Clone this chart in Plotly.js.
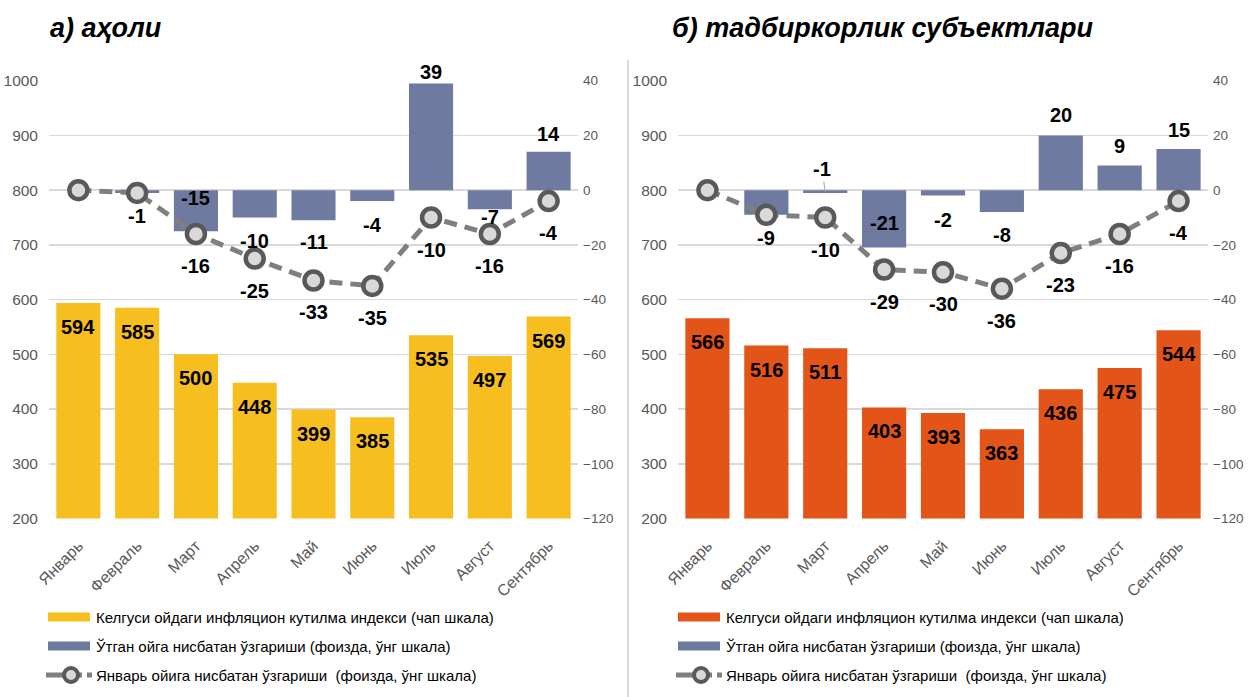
<!DOCTYPE html>
<html><head><meta charset="utf-8">
<script src="https://cdn.plot.ly/plotly-3.0.1.min.js"></script>
<style>html,body{margin:0;padding:0;background:#fff}#chart{width:1249px;height:697px}</style>
</head><body><div id="chart"></div>
<script>
// ---------- DATA ----------
const months = ["Январь","Февраль","Март","Апрель","Май","Июнь","Июль","Август","Сентябрь"];
const titleA = "а) аҳоли";
const titleB = "б) тадбиркорлик субъектлари";
const legendNames = ["Келгуси ойдаги инфляцион кутилма индекси (чап шкала)",
                     "Ўтган ойга нисбатан ўзгариши (фоизда, ўнг шкала)",
                     "Январь ойига нисбатан ўзгариши  (фоизда, ўнг шкала)"];
// а) population
const popIndex   = [594,585,500,448,399,385,535,497,569];
const popMonthly = [null,-1,-15,-10,-11,-4,39,-7,14];
const popJan     = [0,-1,-16,-25,-33,-35,-10,-16,-4];
// б) businesses
const bizIndex   = [566,516,511,403,393,363,436,475,544];
const bizMonthly = [null,-9,-1,-21,-2,-8,20,9,15];
const bizJan     = [0,-9,-10,-29,-30,-36,-23,-16,-4];

// ---------- STYLE ----------
const W = 1249, H = 697;
const NARROW = "'Liberation Sans Narrow','Arial Narrow','Liberation Sans',Arial,sans-serif";
const SANS = "'Liberation Sans',Arial,sans-serif";
const YELLOW = "#F6BE1F", ORANGE = "#E25417", BLUE = "#6F7AA0";
const px = x => x / W, py = y => 1 - y / H;
const yDom = [py(518.5), py(80.7)];
const xDomA = [px(49), px(578)], xDomB = [px(678), px(1208)];

// label placement tweaks (pixel shifts), kept separate from data
const popBarShift = [0,-23,null,-23,-22,-24,11,-8,18];   // null => place near base
const bizBarShift = [0,-23,'lead',25,-24,-23,20,20,19];
const popLineHide = [true,true,false,false,false,false,false,false,false];
const bizLineHide = [true,true,false,false,false,false,false,false,false];

function traces(idx, mon, jan, color, xa, ya, ya2) {
  return [
    {type:'bar', x:months, y:idx, xaxis:xa, yaxis:ya, marker:{color:color}, width:0.75, hoverinfo:'y', showlegend:false},
    {type:'bar', x:months, y:mon, xaxis:xa, yaxis:ya2, marker:{color:BLUE}, width:0.75, hoverinfo:'y', showlegend:false},
    {type:'scatter', mode:'lines+markers', x:months, y:jan, xaxis:xa, yaxis:ya2,
     line:{color:'#7F7F7F', width:5, dash:'13px,8px'},
     marker:{symbol:'circle', size:18, color:'#D9D9D9', line:{color:'#595959', width:4.5}},
     showlegend:false}
  ];
}

const data = [].concat(
  traces(popIndex, popMonthly, popJan, YELLOW, 'x', 'y', 'y2'),
  traces(bizIndex, bizMonthly, bizJan, ORANGE, 'x2', 'y3', 'y4')
);

const lblFont = {family:NARROW, size:20, color:'#000'};
function labelAnns(idx, mon, jan, xr, yr, yr2, barShift, lineHide) {
  const out = [];
  idx.forEach((v,i)=>out.push({x:months[i], y:v, xref:xr, yref:yr, text:'<b>'+v+'</b>', showarrow:false,
      yanchor:'middle', yshift:-24, font:lblFont}));
  mon.forEach((v,i)=>{
    if (v === null) return;
    const s = barShift[i];
    if (s === null) {
      out.push({x:months[i], y:0, xref:xr, yref:yr2, text:'<b>'+v+'</b>', showarrow:false, yanchor:'middle', yshift:-8, font:lblFont});
    } else if (s === 'lead') {
      out.push({x:months[i], y:v, xref:xr, yref:yr2, text:'<b>'+v+'</b>', showarrow:true, arrowhead:0, arrowwidth:1,
        arrowcolor:'#A6A6A6', ax:-3, ay:-24, standoff:1, font:lblFont});
    } else {
      out.push({x:months[i], y:v, xref:xr, yref:yr2, text:'<b>'+v+'</b>', showarrow:false, yanchor:'middle', yshift:s, font:lblFont});
    }
  });
  jan.forEach((v,i)=>{
    if (lineHide[i]) return;
    out.push({x:months[i], y:v, xref:xr, yref:yr2, text:'<b>'+v+'</b>', showarrow:false, yanchor:'middle', yshift:-32, font:lblFont});
  });
  return out;
}

function legendItems(x0, color) {
  const ys = [617, 646, 675];
  const shapes = [
    {type:'rect', xref:'paper', yref:'paper', x0:px(x0), x1:px(x0+42), y0:py(ys[0]+4.5), y1:py(ys[0]-4.5), fillcolor:color, line:{width:0}},
    {type:'rect', xref:'paper', yref:'paper', x0:px(x0), x1:px(x0+42), y0:py(ys[1]+4.5), y1:py(ys[1]-4.5), fillcolor:BLUE, line:{width:0}},
    {type:'line', xref:'paper', yref:'paper', x0:px(x0-2), x1:px(x0+34), y0:py(ys[2]), y1:py(ys[2]), line:{color:'#7F7F7F', width:5}},
    {type:'line', xref:'paper', yref:'paper', x0:px(x0+39), x1:px(x0+44), y0:py(ys[2]), y1:py(ys[2]), line:{color:'#7F7F7F', width:5}},
    {type:'circle', xref:'paper', yref:'paper', x0:px(x0+16), x1:px(x0+30), y0:py(ys[2]+7), y1:py(ys[2]-7), fillcolor:'#D9D9D9', line:{color:'#595959', width:4}}
  ];
  const anns = ys.map((y,i)=>({xref:'paper', yref:'paper', x:px(x0+46), y:py(y), xanchor:'left', yanchor:'middle',
     text:legendNames[i], showarrow:false, font:{family:NARROW, size:15, color:'#000'}}));
  return {shapes, anns};
}

const legA = legendItems(48, YELLOW), legB = legendItems(678, ORANGE);

const tickFont = {family:NARROW, size:15.5, color:'#595959'};
const xCommon = {type:'category', categoryorder:'array', categoryarray:months, range:[-0.5,8.5], tickangle:-45,
  tickfont:{family:SANS, size:16, color:'#595959'}, showgrid:false, zeroline:false, showline:false, ticks:'',
  ticklabelstandoff:14, fixedrange:true};
const yLeft = {range:[200,1000], dtick:100, tick0:200, domain:yDom, tickfont:tickFont, gridcolor:'#D9D9D9', gridwidth:1.5,
  zeroline:false, showline:false, ticks:'', ticklabelstandoff:10};
const yRight = {range:[-120,40], dtick:20, tick0:-120, side:'right', showgrid:false,
  tickfont:{family:NARROW, size:13.5, color:'#595959'},
  zeroline:false, showline:false, ticks:'', ticklabelstandoff:4};

const layout = {
  width:W, height:H, margin:{l:0,r:0,t:0,b:0}, paper_bgcolor:'#fff', plot_bgcolor:'rgba(0,0,0,0)',
  barmode:'overlay', showlegend:false, font:{family:NARROW},
  xaxis:Object.assign({}, xCommon, {domain:xDomA, anchor:'y'}),
  xaxis2:Object.assign({}, xCommon, {domain:xDomB, anchor:'y3'}),
  yaxis:Object.assign({}, yLeft, {anchor:'x'}),
  yaxis2:Object.assign({}, yRight, {overlaying:'y', anchor:'x'}),
  yaxis3:Object.assign({}, yLeft, {anchor:'x2'}),
  yaxis4:Object.assign({}, yRight, {overlaying:'y3', anchor:'x2'}),
  shapes:[{type:'line', xref:'paper', yref:'paper', x0:px(628), x1:px(628), y0:py(60), y1:0, line:{color:'#D9D9D9', width:2}}]
    .concat(legA.shapes, legB.shapes),
  annotations:[
    {xref:'paper', yref:'paper', x:px(48), y:py(28), xanchor:'left', yanchor:'middle', showarrow:false,
     text:'<b><i>'+titleA+'</i></b>', font:{family:SANS, size:27, color:'#000'}},
    {xref:'paper', yref:'paper', x:px(670), y:py(28), xanchor:'left', yanchor:'middle', showarrow:false,
     text:'<b><i>'+titleB+'</i></b>', font:{family:SANS, size:27, color:'#000'}}
  ].concat(
    labelAnns(popIndex, popMonthly, popJan, 'x', 'y', 'y2', popBarShift, popLineHide),
    labelAnns(bizIndex, bizMonthly, bizJan, 'x2', 'y3', 'y4', bizBarShift, bizLineHide),
    legA.anns, legB.anns)
};

Plotly.newPlot('chart', data, layout, {staticPlot:true, displayModeBar:false});
</script></body></html>
